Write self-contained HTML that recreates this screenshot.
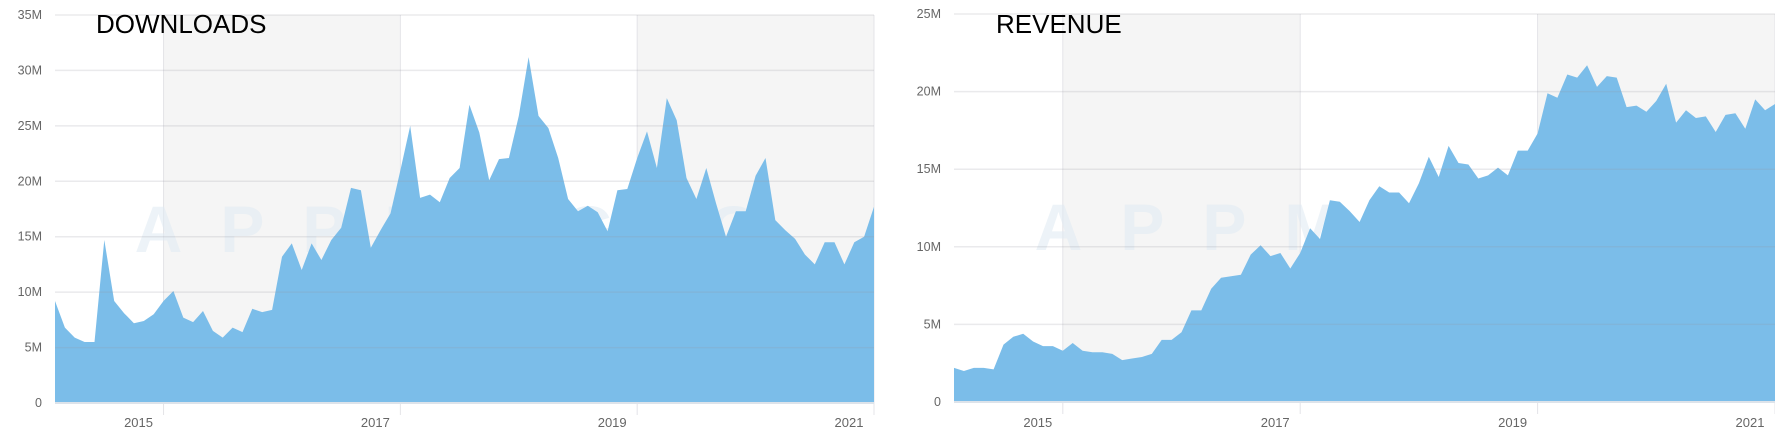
<!DOCTYPE html>
<html><head><meta charset="utf-8"><style>
html,body{margin:0;padding:0;background:#fff;width:1775px;height:432px;overflow:hidden}
svg{display:block}
text{font-family:"Liberation Sans",sans-serif}
</style></head><body>
<svg id="root" width="1775" height="432" xmlns="http://www.w3.org/2000/svg"></svg>
<script>
const downloads=[9.2,6.8,5.9,5.5,5.5,14.7,9.2,8.1,7.2,7.4,8.0,9.2,10.1,7.7,7.3,8.3,6.5,5.9,6.8,6.4,8.5,8.2,8.4,13.2,14.4,12.0,14.4,12.9,14.7,15.8,19.4,19.2,14.0,15.6,17.1,21.0,25.0,18.5,18.8,18.1,20.3,21.2,26.9,24.4,20.1,22.0,22.1,25.9,31.2,25.9,24.8,22.1,18.4,17.3,17.8,17.2,15.5,19.2,19.3,22.1,24.5,21.2,27.5,25.5,20.3,18.4,21.2,18.0,15.0,17.3,17.3,20.5,22.1,16.5,15.6,14.8,13.4,12.5,14.5,14.5,12.5,14.5,15.0,17.7];
const revenue=[2.2,2.0,2.2,2.2,2.1,3.7,4.2,4.4,3.9,3.6,3.6,3.3,3.8,3.3,3.2,3.2,3.1,2.7,2.8,2.9,3.1,4.0,4.0,4.5,5.9,5.9,7.3,8.0,8.1,8.2,9.5,10.1,9.4,9.6,8.6,9.6,11.2,10.5,13.0,12.9,12.3,11.6,13.0,13.9,13.5,13.5,12.8,14.1,15.8,14.5,16.5,15.4,15.3,14.4,14.6,15.1,14.6,16.2,16.2,17.3,19.9,19.6,21.1,20.9,21.7,20.3,21.0,20.9,19.0,19.1,18.7,19.4,20.5,18.0,18.8,18.3,18.4,17.4,18.5,18.6,17.6,19.5,18.8,19.2];
const yearLabels=["2015","2017","2019","2021"];
const yearIndex=[11,35,59,83];
const dlTicks=[0,5,10,15,20,25,30,35];
const dlTickLabels=["0","5M","10M","15M","20M","25M","30M","35M"];
const revTicks=[0,5,10,15,20,25];
const revTickLabels=["0","5M","10M","15M","20M","25M"];
const NS="http://www.w3.org/2000/svg";
const root=document.getElementById('root');
function mk(tag,attrs,parent){const e=document.createElementNS(NS,tag);for(const k in attrs)e.setAttribute(k,attrs[k]);(parent||root).appendChild(e);return e;}
function chart(o){
  const g=mk('g',{});
  
  
  const n=o.data.length;
  const x=i=>o.x0+i*(o.x1-o.x0)/(n-1);
  const y=v=>o.yb-(v/o.max)*(o.yb-o.yt);
  // bands
  for(let b=0;b<yearIndex.length-1;b+=2){
    const r=mk('rect',{x:x(yearIndex[b]),y:o.yt,width:x(yearIndex[b+1])-x(yearIndex[b]),height:o.yb-o.yt,fill:'#f5f5f5'},g);
    
    
  }
  // vertical lines
  yearIndex.forEach((yi,k)=>{
    const l=mk('line',{x1:x(yi),x2:x(yi),y1:o.yt,y2:o.yb+12,stroke:'#e4e4e8','stroke-width':1},g);
    
    
    const t=mk('text',{x:x(yi)-25,y:427,'text-anchor':'middle','font-size':13,fill:'#666'},g);
    t.textContent=yearLabels[k];
    
    
  });
  // watermark
  const wm=mk('text',{x:(o.x0+o.x1)/2,y:o.wy,'text-anchor':'middle','font-size':66,'font-weight':'bold','letter-spacing':38,fill:'#dfe9f2','fill-opacity':0.55},g);
  wm.textContent='APPMAGIC';
  
  
  // area
  let d='M'+x(0)+','+o.yb;
  o.data.forEach((v,i)=>{d+=' L'+x(i).toFixed(1)+','+y(v).toFixed(1);});
  d+=' L'+x(n-1)+','+o.yb+' Z';
  const a=mk('path',{d:d,fill:'#7bbde9'},g);
  
  
  // horizontal grid + labels
  o.ticks.forEach((v,k)=>{
    const l=mk('line',{x1:o.x0,x2:o.x1,y1:y(v),y2:y(v),stroke:k==0?'#dde3ea':'rgba(150,150,160,0.2)','stroke-width':k==0?2:1.5},g);
    
    
    const t=mk('text',{x:o.x0-13,y:y(v)+4,'text-anchor':'end','font-size':12.5,fill:'#666'},g);
    t.textContent=o.labels[k];
    
    
  });
  const ti=mk('text',{x:o.tx,y:33,'font-size':26,fill:'#000'},g);
  ti.textContent=o.title;
  
  
}
chart({name:'downloads-chart',data:downloads,x0:55,x1:874,yt:15,yb:403,max:35,ticks:dlTicks,labels:dlTickLabels,title:'DOWNLOADS',tx:96,wy:252});
chart({name:'revenue-chart',data:revenue,x0:954,x1:1775,yt:14,yb:402,max:25,ticks:revTicks,labels:revTickLabels,title:'REVENUE',tx:996,wy:250});
</script>
</body></html>
